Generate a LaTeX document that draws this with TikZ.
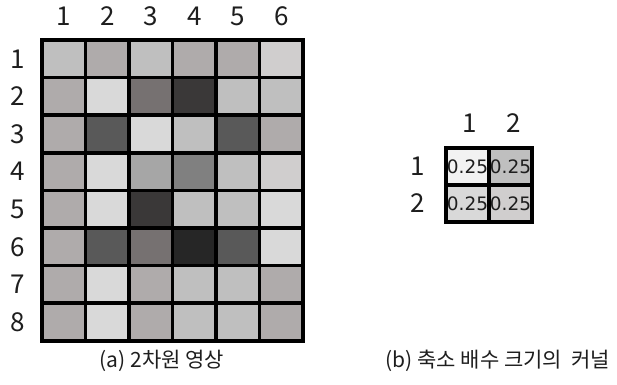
\documentclass[tikz,border=0pt]{standalone}
\usepackage{fontspec}
\setmainfont{Noto Sans CJK KR}
\newfontfamily\numfont{DejaVu Sans}
\usetikzlibrary{positioning}
\definecolor{cA}{RGB}{191,191,191}
\definecolor{cB}{RGB}{175,171,171}
\definecolor{cC}{RGB}{217,217,217}
\definecolor{cD}{RGB}{118,113,113}
\definecolor{cE}{RGB}{58,56,56}
\definecolor{cF}{RGB}{89,89,89}
\definecolor{cG}{RGB}{38,38,38}
\definecolor{cH}{RGB}{166,166,166}
\definecolor{cI}{RGB}{128,128,128}
\definecolor{cK}{RGB}{208,206,206}
\definecolor{kA}{RGB}{242,242,242}
\definecolor{txt}{RGB}{30,30,30}

\begin{document}
\begin{tikzpicture}[x=1pt,y=-1pt,
  cell/.style={draw=black,line width=3.5pt,minimum width=43.5pt,minimum height=37.6pt,inner sep=0pt,outer sep=0pt},
  kcell/.style={draw=black,line width=3.5pt,minimum width=43pt,minimum height=37pt,inner sep=0pt,outer sep=0pt,
    font=\numfont\fontsize{18.5}{20}\selectfont,text=txt},
  lbl/.style={inner sep=0pt,text=txt,font=\fontsize{26}{30}\selectfont},
  caption/.style={inner sep=0pt,text=txt,font=\fontsize{21}{24}\selectfont}]
  \useasboundingbox (0,0) rectangle (617,384);
  % left: 8x6 image
  \foreach \row [count=\r] in {{cA,cB,cA,cB,cB,cK},{cB,cC,cD,cE,cA,cA},{cB,cF,cC,cA,cF,cB},{cB,cC,cH,cI,cA,cK},
      {cB,cC,cE,cA,cA,cC},{cB,cF,cD,cG,cF,cC},{cB,cC,cB,cA,cA,cB},{cB,cC,cB,cA,cA,cB}} {
    \foreach \c [count=\k] in \row
      \node[cell,fill=\c] (g-\r-\k) at ({42+43.5*(\k-0.5)},{40+37.6*(\r-0.5)}) {};
    \node[lbl] (row-\r) at (18,{40+37.6*(\r-0.5)}) {\r};
  }
  \foreach \k in {1,...,6} \node[lbl] (col-\k) at ({42+43.5*(\k-0.5)},16) {\k};
  \node[caption] (capA) at (162,361) {(a) 2차원 영상};
  % right: 2x2 kernel
  \node[kcell,fill=kA] (k-1-1) at (467.5,166.5) {0.25};
  \node[kcell,fill=cA] (k-1-2) [right=0pt of k-1-1] {0.25};
  \node[kcell,fill=cC] (k-2-1) [below=0pt of k-1-1] {0.25};
  \node[kcell,fill=cK] (k-2-2) [right=0pt of k-2-1] {0.25};
  \node[lbl] (kcol-1) at (470,123) {1};
  \node[lbl] (kcol-2) at (514,123) {2};
  \node[lbl] (krow-1) at (418,166) {1};
  \node[lbl] (krow-2) at (418,203) {2};
  \node[caption] (capB) at (498,361) {(b) 축소 배수 크기의\ \ 커널};
\end{tikzpicture}
\end{document}
